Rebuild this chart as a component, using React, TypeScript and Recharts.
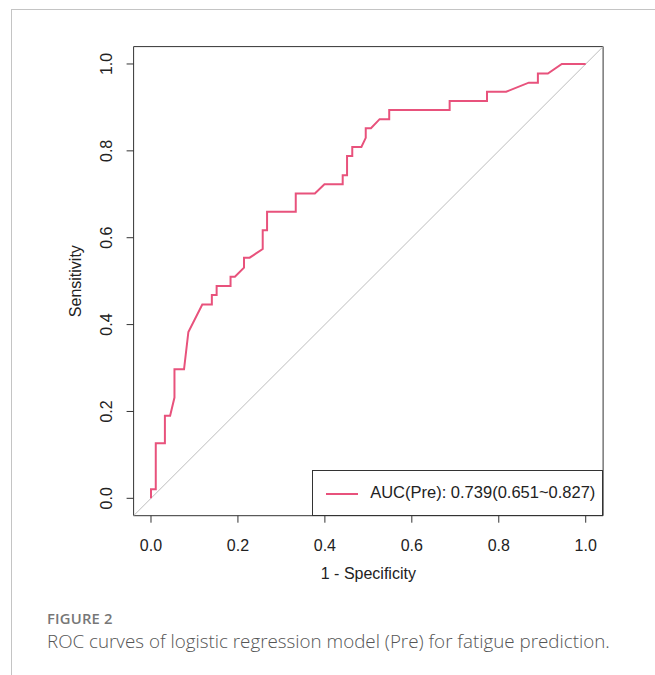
import { LineChart, Line, XAxis, YAxis, ReferenceArea, ReferenceLine, Label } from "recharts"

// ROC curve points
const fpr = [
  0, 0, 0.011, 0.011, 0.032, 0.032, 0.044, 0.054, 0.054, 0.076, 0.086, 0.118, 0.14, 0.14, 0.151, 0.151,
  0.183, 0.183, 0.193, 0.214, 0.214, 0.227, 0.257, 0.257, 0.267, 0.267, 0.333, 0.333, 0.377, 0.399,
  0.441, 0.441, 0.451, 0.451, 0.463, 0.463, 0.484, 0.494, 0.494, 0.506, 0.526, 0.548, 0.548, 0.687,
  0.687, 0.773, 0.773, 0.817, 0.869, 0.89, 0.89, 0.913, 0.945, 1.0,
]
const tpr = [
  0, 0.021, 0.021, 0.127, 0.127, 0.19, 0.19, 0.232, 0.297, 0.297, 0.383, 0.446, 0.446, 0.468, 0.468, 0.489,
  0.489, 0.51, 0.51, 0.531, 0.554, 0.554, 0.574, 0.617, 0.617, 0.66, 0.66, 0.702, 0.702, 0.723,
  0.723, 0.744, 0.744, 0.788, 0.788, 0.809, 0.809, 0.83, 0.852, 0.852, 0.873, 0.873, 0.894, 0.894,
  0.915, 0.915, 0.936, 0.936, 0.957, 0.957, 0.978, 0.978, 1.0, 1.0,
]
const ticks = [0, 0.2, 0.4, 0.6, 0.8, 1.0]
const seriesName = "AUC(Pre): 0.739(0.651~0.827)"
const caption = "ROC curves of logistic regression model (Pre) for fatigue prediction."

const rocData = fpr.map((x, i) => ({ fpr: x, tpr: tpr[i] }))

const FONT = "'Liberation Sans', Arial, Helvetica, sans-serif"
const PINK = "#E8527C"
const FS = 16

function YTick(props: any) {
  const { x, y, payload } = props
  return (
    <text x={x} y={y} transform={`rotate(-90 ${x} ${y})`} textAnchor="middle" fontSize={FS} fill="#222" fontFamily={FONT}>
      {Number(payload.value).toFixed(1)}
    </text>
  )
}

export default function App() {
  return (
    <div style={{ position: "relative", width: 655, height: 675, overflow: "hidden", background: "#fff" }}>
      <style>{`body{margin:0}`}</style>
      <div style={{ position: "absolute", left: 11, top: 9, width: 650, height: 680, borderTop: "1px solid #c4c4c4", borderLeft: "1px solid #c4c4c4" }} />
      <div style={{ position: "absolute", left: 0, top: 0 }}>
        <LineChart width={655} height={600} data={rocData} margin={{ top: 46.6, right: 51.9, bottom: 0, left: 0 }}>
          <XAxis
            dataKey="fpr"
            type="number"
            domain={[-0.04, 1.04]}
            ticks={ticks}
            allowDataOverflow
            height={84.3}
            axisLine={false}
            tickSize={7}
            tickMargin={17}
            tickLine={{ stroke: "#333" }}
            tick={{ fontSize: FS, fill: "#222", fontFamily: FONT }}
            tickFormatter={(v) => Number(v).toFixed(1)}
          >
            <Label
              content={(p: any) => (
                <text x={p.viewBox.x + p.viewBox.width / 2} y={579} textAnchor="middle" fontSize={FS} fill="#222" fontFamily={FONT}>
                  1 - Specificity
                </text>
              )}
            />
          </XAxis>
          <YAxis
            dataKey="tpr"
            type="number"
            domain={[-0.04, 1.04]}
            ticks={ticks}
            allowDataOverflow
            width={133.6}
            axisLine={false}
            tickSize={7}
            tickMargin={14.6}
            tickLine={{ stroke: "#333" }}
            tick={<YTick />}
          >
            <Label
              content={(p: any) => {
                const cy = p.viewBox.y + p.viewBox.height / 2
                return (
                  <text x={81} y={cy} transform={`rotate(-90 81 ${cy})`} textAnchor="middle" fontSize={FS} fill="#222" fontFamily={FONT}>
                    Sensitivity
                  </text>
                )
              }}
            />
          </YAxis>
          <ReferenceLine
            segment={[{ x: -0.04, y: -0.04 }, { x: 1.04, y: 1.04 }]}
            stroke="#bdbdbd"
            strokeWidth={1}
            ifOverflow="visible"
          />
          <Line
            dataKey="tpr"
            name={seriesName}
            type="linear"
            stroke={PINK}
            strokeWidth={2}
            dot={false}
            activeDot={false}
            isAnimationActive={false}
          />
          <ReferenceArea x1={-0.04} x2={1.04} y1={-0.04} y2={1.04} fill="none" stroke="#333" strokeWidth={1} ifOverflow="visible" />
        </LineChart>
      </div>
      {/* legend box, bottom right of the plot like R's legend("bottomright") */}
      <div style={{ position: "absolute", left: 311.7, top: 470, width: 291.4, height: 45.7, boxSizing: "border-box", border: "1px solid #333", background: "#fff", fontFamily: FONT }}>
        <div style={{ position: "absolute", left: 13, top: 21.5, width: 32, height: 2, background: PINK }} />
        <div style={{ position: "absolute", left: 57.5, top: 12, fontSize: 16.5, lineHeight: "19px", color: "#222", whiteSpace: "nowrap" }}>{seriesName}</div>
      </div>
      <div style={{ position: "absolute", left: 47, top: 608, fontFamily: "'Open Sans', sans-serif", fontSize: 14.8, fontWeight: 600, color: "#777", letterSpacing: 0.2 }}>
        FIGURE 2
      </div>
      <div style={{ position: "absolute", left: 47, top: 628, fontFamily: "'Open Sans', sans-serif", fontSize: 18.8, fontWeight: 300, color: "#555" }}>
        {caption}
      </div>
    </div>
  )
}
